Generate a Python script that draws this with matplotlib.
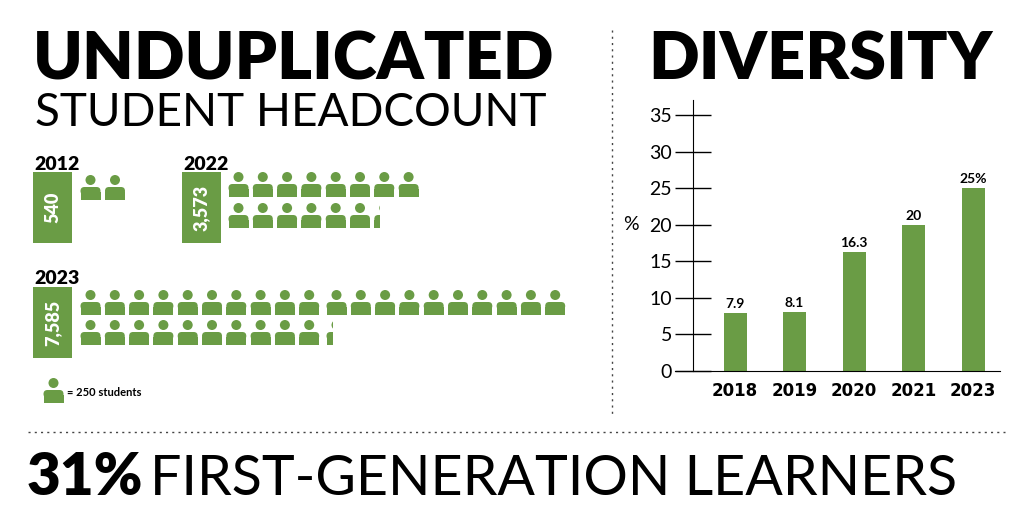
import matplotlib
matplotlib.use("Agg")
import matplotlib.pyplot as plt
from matplotlib.patches import Circle, FancyBboxPatch, Rectangle

GREEN = "#6a9c45"

# headcount data
head_years = ["2012", "2022", "2023"]
head_counts = [540, 3573, 7585]
head_labels = ["540", "3,573", "7,585"]
per_icon = 250

# diversity data
div_years = ["2018", "2019", "2020", "2021", "2023"]
div_values = [7.9, 8.1, 16.3, 20, 25]
div_labels = ["7.9", "8.1", "16.3", "20", "25%"]

fig = plt.figure(figsize=(10.24, 5.17), dpi=100)
ax = fig.add_axes([0, 0, 1, 1])
ax.set_xlim(0, 1024)
ax.set_ylim(517, 0)
ax.axis("off")


def person(x, top, w=21, h=25, frac=1.0):
    # x = left edge; frac = share of icon drawn (partial icon)
    cx = x + w / 2
    parts = [
        Circle((cx, top + 5), 5, color=GREEN, lw=0),
        FancyBboxPatch((x + 0.5, top + 12), w - 1, 8,
                       boxstyle="round,pad=0,rounding_size=4", color=GREEN, lw=0),
        Rectangle((x + 0.5, top + 17), w - 1, h - 17, color=GREEN, lw=0),
    ]
    clip = Rectangle((x, top - 2), w * frac, h + 4, transform=ax.transData)
    for p in parts:
        ax.add_patch(p)
        if frac < 1:
            p.set_clip_path(clip)


def icon_block(count, x0, rows_top, per_row, step=24.3, gap_every=10, gap=3):
    n = count / per_icon
    full = int(n)
    partial = n - full
    for i in range(full + (1 if partial > 0.2 else 0)):
        r, c = divmod(i, per_row)
        if r >= len(rows_top):
            break
        x = x0 + c * step + (c // gap_every) * gap
        frac = 1.0 if i < full else partial
        person(x, rows_top[r], frac=frac)


# titles
ax.text(33, 80, "UNDUPLICATED", fontsize=48, fontweight="black", family="Lato", color="black", va="baseline")
ax.text(35, 126, "STUDENT HEADCOUNT", fontsize=33, fontweight="normal", family="Lato", color="black", va="baseline")
ax.text(648, 80, "DIVERSITY", fontsize=48, fontweight="black", family="Lato", color="black", va="baseline")

# year blocks
boxes = [(33, 172, 160, 80), (182, 172, 160, 228), (33, 287, 274, 80)]
for (bx, by, ly, ix), yr, lab, cnt in zip(boxes, head_years, head_labels, head_counts):
    ax.text(bx + 1, ly + 10, yr, fontsize=14, fontweight="black", family="Lato", color="black", va="baseline")
    ax.add_patch(Rectangle((bx, by), 39, 71, color=GREEN, lw=0))
    ax.text(bx + 19.5, by + 35.5, lab, rotation=90, fontsize=13, fontweight="black", family="Lato",
            color="white", ha="center", va="center")

icon_block(head_counts[0], 80, [175], 20, step=24.5)
icon_block(head_counts[1], 228, [172, 203], 8, step=24.3)
icon_block(head_counts[2], 80, [290, 320], 20, step=24.3)

# legend
person(43, 378)
ax.text(67, 392, "= 250 students", fontsize=8, fontweight="bold", family="Lato", va="center")

# dotted separators
ax.plot([612, 612], [30, 415], ls=(0, (1.5, 3)), color="#444444", lw=1)
ax.plot([28, 1005], [432, 432], ls=(0, (1.5, 3)), color="#444444", lw=1)

# bottom line
ax.text(27, 495, "31%", fontsize=42, fontweight="black", family="Lato", va="baseline")
ax.text(150, 495, "FIRST-GENERATION LEARNERS", fontsize=40, fontweight="normal", family="Lato", va="baseline")

# bar chart
W, H = 1024, 517
bx = fig.add_axes([675 / W, 1 - 371 / H, 325 / W, (371 - 115) / H])
step = 59.5
xs = list(range(len(div_years)))
bx.set_xlim(-(735 - 675) / step, (1000 - 735) / step)
bx.set_ylim(0, 35)
bx.bar(xs, div_values, width=23 / step, color=GREEN)
for x, v, l in zip(xs, div_values, div_labels):
    bx.text(x, v + 0.4, l, ha="center", va="bottom", fontsize=10, fontweight="bold", family="Lato")
bx.patch.set_alpha(0)
for s in ["top", "right"]:
    bx.spines[s].set_visible(False)
bx.spines["left"].set_position(("data", -(735 - 693) / step))
bx.spines["left"].set_bounds(0, 37)
bx.spines["left"].set_clip_on(False)
bx.set_yticks(range(0, 36, 5))
bx.tick_params(axis="y", direction="inout", length=26, width=1, labelsize=14, pad=2)
bx.set_xticks(xs)
bx.set_xticklabels(div_years, fontsize=12, fontweight="bold")
bx.tick_params(axis="x", length=0, pad=8)
for t in bx.get_yticklabels():
    t.set_family("Lato")
bx.text(-1.75, 20, "%", fontsize=14, family="Lato", va="center", ha="center")

fig.savefig("out.png", dpi=100)
